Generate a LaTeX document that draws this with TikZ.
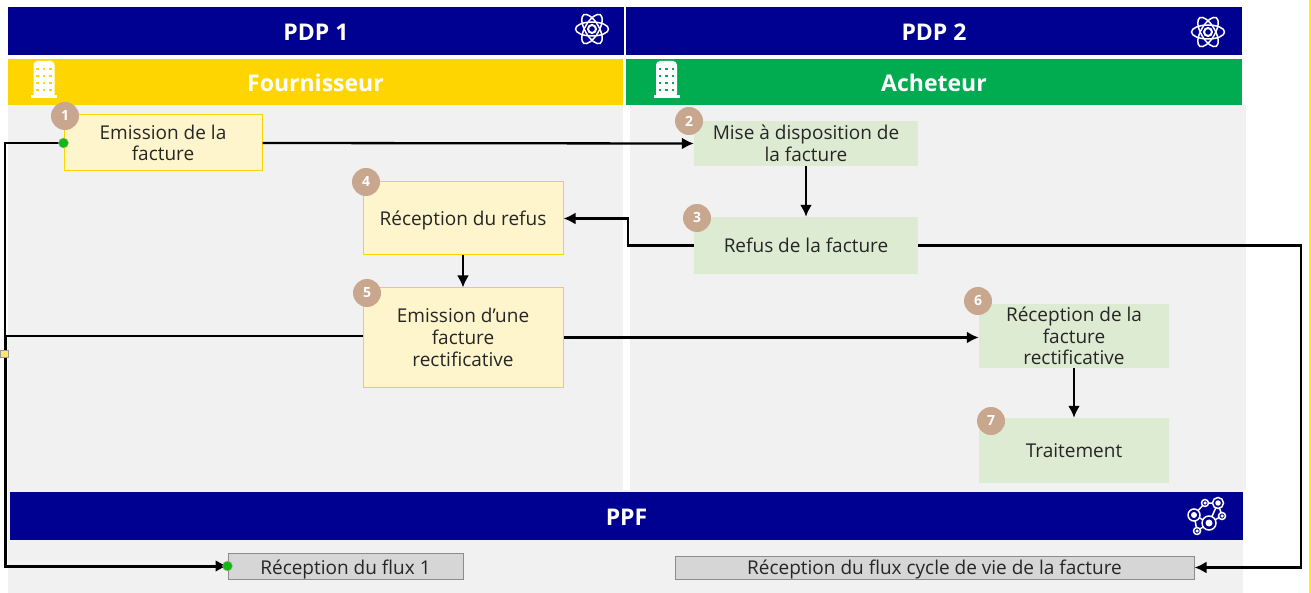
\documentclass[tikz,border=0pt]{standalone}
\usepackage{fontspec}
\setmainfont{Open Sans}
\usetikzlibrary{arrows.meta}
\definecolor{navy}{HTML}{000091}
\definecolor{gold}{HTML}{FFD500}
\definecolor{leaf}{HTML}{00AC4F}
\definecolor{panel}{HTML}{F1F1F1}
\definecolor{cream}{HTML}{FFF5CC}
\definecolor{sage}{HTML}{DDEBD3}
\definecolor{tan}{HTML}{C9A68E}
\definecolor{flux}{HTML}{D6D6D6}
\definecolor{dot}{HTML}{14B814}
\tikzset{
  band/.style={fill=#1,inner sep=0pt,text height=19.5pt,text depth=0pt,font=\fontsize{23}{23}\selectfont\bfseries,text=white},
  sourcebox/.style={draw=gold,fill=cream,line width=1pt,inner sep=0pt,align=center,text=black!85,font=\fontsize{19}{21.7}\selectfont},
  targetbox/.style={fill=sage,inner sep=0pt,align=center,text=black!85,font=\fontsize{19}{21.7}\selectfont},
  fluxbox/.style={draw=black!45,fill=flux,line width=1pt,inner sep=0pt,text height=13.5pt,text depth=0pt,text=black!85,font=\fontsize{19}{20}\selectfont},
  badge/.style={circle,fill=tan,text=white,inner sep=0pt,minimum size=28pt,font=\fontsize{14}{14}\selectfont\bfseries},
  link/.style={draw=black,line width=2.3pt,-{Latex[length=12pt,width=12pt]}},
  wire/.style={draw=black,line width=2.3pt},
}
\newcommand{\atomicon}[2]{
  \foreach \a in {0,60,120}
    \draw[white,line width=1.5pt,rotate around={\a:(#1,#2)}] (#1,#2) ellipse (16.5 and 7);
  \draw[white,line width=2pt] (#1,#2) circle (4);
}
\newcommand{\buildingicon}[3]{
  \fill[white,rounded corners=4pt] (#1-10.5,#2+38) -- (#1-10.5,#2+1) -- (#1+10.5,#2+1) -- (#1+10.5,#2+38) -- cycle;
  \fill[white] (#1-13,#2+35.5) rectangle (#1+13,#2+38.5);
  \foreach \i in {-6.5,0,6.5}
    \foreach \j in {9,16,23,30}
      \fill[#3] (#1+\i-1.3,#2+\j-1.3) rectangle (#1+\i+1.3,#2+\j+1.3);
}
\begin{document}
\begin{tikzpicture}[x=1pt,y=-1pt]
\useasboundingbox (0,0) rectangle (1311,593);

% panels
\fill[panel] (8,105) rectangle (623,490);
\fill[panel] (630,105) rectangle (1246,490);
\fill[panel] (8,490) rectangle (1243,593);
\draw[yellow,line width=1.2pt] (1310,0) -- (1310,593);

% headers
\node[band=navy,minimum width=616pt,minimum height=48pt] (pdpa) at (316,31) {PDP 1};
\node[band=navy,minimum width=616pt,minimum height=48pt] (pdpb) at (934,31) {PDP 2};
\node[band=gold,minimum width=615pt,minimum height=46pt] (fournisseur) at (315.5,82) {Fournisseur};
\node[band=leaf,minimum width=616pt,minimum height=46pt] (acheteur) at (934,82) {Acheteur};
\node[band=navy,minimum width=1233pt,minimum height=48pt] (ppf) at (626.5,516) {PPF};

% steps
\node[sourcebox,minimum width=198pt,minimum height=56pt] (emission) at (163,143) {Emission de la\\facture};
\node[targetbox,minimum width=224pt,minimum height=45pt] (mise) at (806,143.5) {Mise à disposition de\\la facture};
\node[targetbox,minimum width=224pt,minimum height=57pt,text depth=0pt] (refus) at (806,245.5) {Refus de la facture};
\node[sourcebox,minimum width=200pt,minimum height=73pt,text depth=0pt] (recrefus) at (463,218.5) {Réception du refus};
\node[sourcebox,minimum width=200pt,minimum height=99pt] (rectif) at (463,337.5) {Emission d’une\\facture\\rectificative};
\node[targetbox,minimum width=190pt,minimum height=64pt] (recrectif) at (1074,336) {Réception de la\\facture\\rectificative};
\node[targetbox,minimum width=190pt,minimum height=65pt] (traitement) at (1074,450.5) {Traitement};
\node[fluxbox,minimum width=235pt,minimum height=26pt,text height=16pt] (fluxa) at (345.5,566) {Réception du flux 1};
\node[fluxbox,minimum width=519pt,minimum height=23pt] (fluxb) at (934.5,567.5) {Réception du flux cycle de vie de la facture};

% connectors
\coordinate (bus) at (5,143);
\coordinate (busb) at (5,336);
\coordinate (elbow) at (628,245.5);
\coordinate (edge) at (1301,245.5);
\draw[link] (emission.east) -- (mise.west);
\draw[link] (mise.south) -- (refus.north);
\draw[link] (refus.west) -- (elbow) |- (recrefus.east);
\draw[link] (recrefus.south) -- (rectif.north);
\draw[link] (rectif.east) -- (rectif.east -| recrectif.west);
\draw[link] (recrectif.south) -- (traitement.north);
\draw[link] (refus.east) -- (edge) |- (fluxb.east);
\draw[wire] (emission.west) -- (bus) -- (busb);
\draw[wire] (busb -| rectif.west) -- (busb);
\draw[link,line width=3pt] (busb) |- (fluxa.west);

% handles
\node[circle,fill=dot,draw=black!30,line width=0.4pt,inner sep=0pt,minimum size=10pt] (dota) at (emission.west) {};
\node[circle,fill=dot,draw=black!30,line width=0.4pt,inner sep=0pt,minimum size=10pt] (dotb) at (fluxa.west) {};
\node[fill=gold!60,draw=black!40,line width=0.6pt,inner sep=0pt,minimum size=7.5pt] (handle) at (4.5,354) {};

% badges
\node[badge] (na) at (65,116) {1};
\node[badge] (nb) at (689,121) {2};
\node[badge] (nc) at (697,218) {3};
\node[badge] (nd) at (366,182) {4};
\node[badge] (ne) at (367,293) {5};
\node[badge] (nf) at (978,301) {6};
\node[badge] (ng) at (991,421) {7};

% icons
\atomicon{592}{29}
\atomicon{1208}{32}
\buildingicon{44}{60}{gold}
\buildingicon{666.5}{60}{leaf}

\draw[white,line width=1.5pt]
(1194,515) -- (1205,503) -- (1218,503) -- (1209,523) -- (1194,515)
(1218,503) -- (1222,516) -- (1209,523)
(1194,515) -- (1197,531) -- (1209,523);
\foreach \x/\y/\r in {1194/515/6,1205/503/3.5,1218/503/5.5,1222/516/3.5,1209/523/7,1197/531/3.5}{
  \fill[navy] (\x,\y) circle (\r);
  \draw[white,line width=1.5pt] (\x,\y) circle (\r);
  \fill[white] (\x,\y) circle (\r*0.5);
}
\end{tikzpicture}
\end{document}
